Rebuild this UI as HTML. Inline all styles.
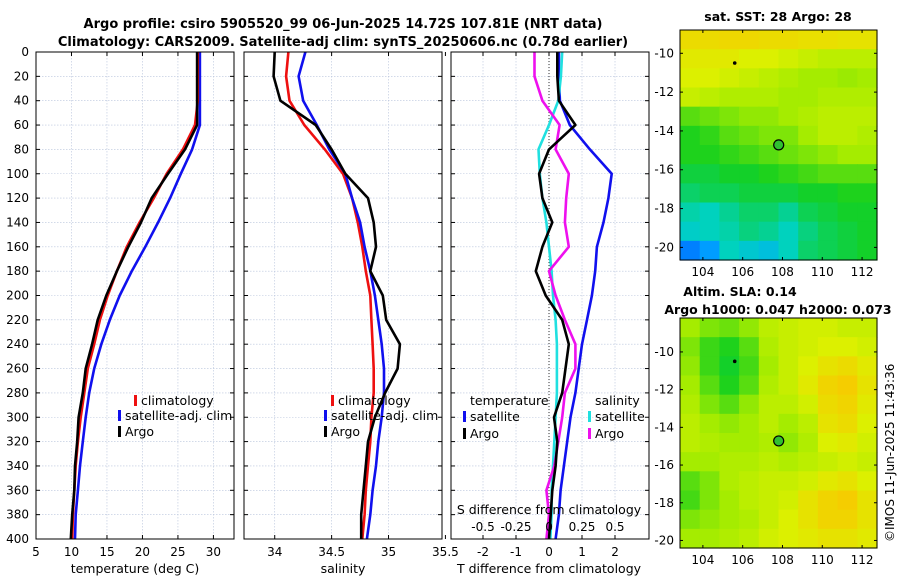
<!DOCTYPE html>
<html><head><meta charset="utf-8"><style>
html,body{margin:0;padding:0;background:#fff}
svg{display:block;font-family:"DejaVu Sans","Liberation Sans",sans-serif}
</style></head><body>
<svg id="c" width="900" height="580" viewBox="0 0 900 580">
<text x="343" y="28" text-anchor="middle" font-size="13" font-weight="bold">Argo profile: csiro 5905520_99 06-Jun-2025 14.72S 107.81E (NRT data)</text>
<text x="343" y="46" text-anchor="middle" font-size="13" font-weight="bold">Climatology: CARS2009. Satellite-adj clim: synTS_20250606.nc (0.78d earlier)</text>
<text x="778" y="21" text-anchor="middle" font-size="12.5" font-weight="bold">sat. SST: 28 Argo: 28</text>
<text x="740" y="296" text-anchor="middle" font-size="12.5" font-weight="bold">Altim. SLA: 0.14</text>
<text x="778" y="314" text-anchor="middle" font-size="12.5" font-weight="bold">Argo h1000: 0.047 h2000: 0.073</text>
<text transform="translate(894,542) rotate(-90)" font-size="12">©IMOS 11-Jun-2025 11:43:36</text>
<g id="g"></g>
</svg>
<script>
// ---------- data ----------
const depths=[0,20,40,60,80,100,120,140,160,180,200,220,240,260,280,300,320,340,360,380,400];
const tempClim=[27.8,27.8,27.8,27.4,25.7,23.4,21.6,19.6,17.8,16.4,15.1,14.0,13.2,12.3,11.8,11.3,10.9,10.6,10.4,10.2,10.1];
const tempSat=[28.1,28.1,28.1,28.1,27.0,25.4,23.9,22.2,20.4,18.5,16.8,15.4,14.2,13.2,12.5,12.0,11.6,11.2,10.9,10.6,10.5];
const tempArgo=[27.7,27.7,27.7,27.7,26.0,23.6,21.3,19.8,18.0,16.4,14.9,13.7,12.9,12.0,11.6,11.0,10.8,10.5,10.4,10.1,9.9];
const salClim=[34.12,34.10,34.13,34.26,34.44,34.60,34.68,34.73,34.77,34.80,34.84,34.85,34.86,34.87,34.87,34.85,34.84,34.82,34.80,34.79,34.77];
const salSat=[34.27,34.21,34.25,34.37,34.48,34.62,34.68,34.75,34.79,34.84,34.88,34.91,34.94,34.96,34.96,34.94,34.91,34.89,34.86,34.84,34.81];
const salArgo=[34.00,33.99,34.05,34.36,34.50,34.62,34.82,34.87,34.89,34.84,34.95,34.98,35.10,35.08,34.97,34.88,34.82,34.80,34.78,34.76,34.76];
const dTSat=[0.3,0.3,0.33,0.63,1.24,1.9,1.8,1.65,1.45,1.4,1.3,1.15,1.0,0.9,0.8,0.65,0.55,0.45,0.35,0.3,0.2];
const dTArgo=[0.25,0.25,0.3,0.8,0.0,-0.3,-0.2,0.1,-0.2,-0.4,-0.1,0.4,0.6,0.5,0.4,0.15,0.25,0.2,0.1,0.05,0.0];
const dSSat=[0.1,0.09,0.07,0.0,-0.08,-0.07,-0.05,-0.02,0.0,0.02,0.03,0.05,0.06,0.06,0.06,0.05,0.04,0.03,0.02,0.02,0.01];
const dSArgo=[-0.11,-0.11,-0.05,0.08,0.05,0.15,0.13,0.12,0.15,0.0,0.05,0.12,0.2,0.2,0.12,0.1,0.07,0.04,-0.02,0.0,-0.02];
const depthTicks=[0,20,40,60,80,100,120,140,160,180,200,220,240,260,280,300,320,340,360,380,400];
const tempTicks=[5,10,15,20,25,30];
const salTicks=[34,34.5,35,35.5];
const salTickLabels=["34","34.5","35","35.5"];
const dTTicks=[-2,-1,0,1,2];
const dSTicks=[-0.5,-0.25,0,0.25,0.5];
const dSTickLabels=["-0.5","-0.25","0","0.25","0.5"];
const lonTicks=[104,106,108,110,112];
const latTicks=[-10,-12,-14,-16,-18,-20];
const sstGrid=[
[.86,.86,.87,.87,.86,.86,.85,.85,.84,.84],
[.82,.82,.82,.80,.80,.78,.76,.74,.74,.74],
[.80,.80,.78,.76,.74,.72,.70,.70,.69,.70],
[.76,.74,.72,.72,.72,.70,.70,.72,.72,.72],
[.62,.64,.66,.68,.68,.70,.72,.74,.74,.74],
[.56,.58,.62,.64,.66,.66,.70,.74,.74,.72],
[.56,.56,.58,.60,.62,.64,.66,.68,.70,.70],
[.52,.52,.54,.54,.56,.58,.60,.62,.62,.62],
[.48,.50,.50,.52,.52,.52,.54,.54,.56,.56],
[.42,.40,.44,.48,.48,.44,.50,.52,.54,.54],
[.38,.40,.42,.46,.44,.40,.46,.50,.52,.54],
[.15,.22,.40,.36,.33,.40,.48,.50,.52,.54]];
const slaGrid=[
[.70,.66,.64,.68,.74,.76,.78,.78,.76,.76],
[.66,.59,.56,.62,.72,.76,.78,.80,.80,.78],
[.68,.59,.54,.60,.70,.76,.80,.84,.86,.82],
[.70,.62,.56,.62,.72,.76,.82,.88,.90,.84],
[.72,.66,.62,.68,.74,.74,.78,.86,.88,.82],
[.74,.70,.68,.70,.74,.70,.74,.84,.86,.80],
[.74,.72,.70,.70,.72,.68,.72,.80,.82,.78],
[.70,.70,.72,.72,.74,.72,.74,.76,.78,.76],
[.62,.66,.72,.74,.76,.76,.78,.82,.84,.80],
[.60,.66,.70,.74,.76,.78,.84,.88,.90,.84],
[.66,.68,.70,.72,.76,.80,.84,.88,.88,.84],
[.70,.70,.72,.74,.78,.80,.82,.84,.84,.82]];
const argoPos=[107.81,-14.72];
const dotPos=[105.6,-10.5];

// ---------- helpers ----------
const NS="http://www.w3.org/2000/svg";
const G=document.getElementById('g');
function mk(tag,at,parent){const e=document.createElementNS(NS,tag);for(const k in at)e.setAttribute(k,at[k]);(parent||G).appendChild(e);return e;}
function lin(d0,d1,r0,r1){return v=>r0+(v-d0)/(d1-d0)*(r1-r0);}
const PT=52,PB=539;
const yD=lin(0,400,PT,PB);
const panels=[{x0:36,x1:234,dom:[5,32.9]},{x0:244,x1:442,dom:[33.73,35.47]},{x0:451,x1:649,dom:[-2.97,3.03]}];
panels.forEach((p,i)=>{
  p.sx=lin(p.dom[0],p.dom[1],p.x0,p.x1);
  const r=mk('rect',{x:p.x0,y:PT,width:p.x1-p.x0,height:PB-PT,fill:'#fff',stroke:'none'});
  
  
});
function grid(p,xt){
  depthTicks.forEach(d=>{const l=mk('line',{x1:p.x0,x2:p.x1,y1:yD(d),y2:yD(d),stroke:'#b8c4dc','stroke-width':0.6,'stroke-dasharray':'1.5,1.5'});
    
    });
  xt.forEach(v=>{const x=p.sx(v);if(x<p.x0+1||x>p.x1-1)return;const l=mk('line',{x1:x,x2:x,y1:PT,y2:PB,stroke:'#b8c4dc','stroke-width':0.6,'stroke-dasharray':'1.5,1.5'});
    
    });
}
grid(panels[0],tempTicks);grid(panels[1],salTicks);grid(panels[2],dTTicks);
function line(p,sx,xs,color,name,w){
  const pts=xs.map((v,i)=>sx(v).toFixed(1)+','+yD(depths[i]).toFixed(1)).join(' ');
  const e=mk('polyline',{points:pts,fill:'none',stroke:color,'stroke-width':w||2.6,'stroke-linejoin':'round'});
  
  
}
const p1=panels[0],p2=panels[1],p3=panels[2];
line(p1,p1.sx,tempSat,'#1010ee','temp-satellite-line');
line(p1,p1.sx,tempClim,'#ee1010','temp-climatology-line');
line(p1,p1.sx,tempArgo,'#000','temp-argo-line');
line(p2,p2.sx,salClim,'#ee1010','sal-climatology-line');
line(p2,p2.sx,salSat,'#1010ee','sal-satellite-line');
line(p2,p2.sx,salArgo,'#000','sal-argo-line');
const sxS=lin(-0.75,0.75,p3.sx(-3),p3.sx(3));
{const z=mk('line',{x1:p3.sx(0),x2:p3.sx(0),y1:PT,y2:PB,stroke:'#333','stroke-width':1,'stroke-dasharray':'1,2'});
 
 }
line(p3,p3.sx,dTSat,'#1010ee','tdiff-satellite-line');
line(p3,sxS,dSSat,'#20e0e0','sdiff-satellite-line');
line(p3,sxS,dSArgo,'#ee10ee','sdiff-argo-line');
line(p3,p3.sx,dTArgo,'#000','tdiff-argo-line');

// frames and ticks
panels.forEach((p,i)=>{
  const f=mk('rect',{x:p.x0,y:PT,width:p.x1-p.x0,height:PB-PT,fill:'none',stroke:'#000','stroke-width':1});
  
  
  depthTicks.forEach(d=>{mk('line',{x1:p.x0,x2:p.x0+4,y1:yD(d),y2:yD(d),stroke:'#000'});mk('line',{x1:p.x1,x2:p.x1-4,y1:yD(d),y2:yD(d),stroke:'#000'});});
});
depthTicks.forEach(d=>{const t=mk('text',{x:29,y:yD(d)+4,'text-anchor':'end','font-size':12});t.textContent=d;
  
  });
function xlabels(p,ticks,labels,y){ticks.forEach((v,i)=>{const x=p.sx(v);mk('line',{x1:x,x2:x,y1:PB,y2:PB-4,stroke:'#000'});mk('line',{x1:x,x2:x,y1:PT,y2:PT+4,stroke:'#000'});
  const t=mk('text',{x:x,y:y,'text-anchor':'middle','font-size':12});t.textContent=labels[i];
  
  });}
xlabels(p1,tempTicks,tempTicks.map(String),556);
xlabels(p2,salTicks,salTickLabels,556);
xlabels(p3,dTTicks,dTTicks.map(String),556);
dSTicks.forEach((v,i)=>{const t=mk('text',{x:sxS(v),y:531,'text-anchor':'middle','font-size':12});t.textContent=dSTickLabels[i];
  
  });
function txt(x,y,s,name,anchor,size){const t=mk('text',{x:x,y:y,'text-anchor':anchor||'start','font-size':size||12.5});t.textContent=s;
  
  return t;}
txt(135,573,'temperature (deg C)','temp-axis-title','middle');
txt(343,573,'salinity','sal-axis-title','middle');
txt(549,573,'T difference from climatology','tdiff-axis-title','middle');
txt(549,514,'S difference from climatology','sdiff-axis-title','middle');
// legends
function leg(x,y,color,label,name){const b=mk('rect',{x:x,y:y-10,width:3,height:11,fill:color});
  
  
  txt(x+7,y,label,name,'start',12.5);}
leg(134,405,'#ee1010','climatology','legend-temp-climatology');
leg(118,420,'#1010ee','satellite-adj. clim','legend-temp-satellite');
leg(118,436,'#000','Argo','legend-temp-argo');
leg(331,405,'#ee1010','climatology','legend-sal-climatology');
leg(324,420,'#1010ee','satellite-adj. clim','legend-sal-satellite');
leg(324,436,'#000','Argo','legend-sal-argo');
txt(470,405,'temperature','legend-temperature-header');
leg(463,421,'#1010ee','satellite','legend-tdiff-satellite');
leg(463,438,'#000','Argo','legend-tdiff-argo');
txt(595,405,'salinity','legend-salinity-header');
leg(588,421,'#20e0e0','satellite','legend-sdiff-satellite');
leg(588,438,'#ee10ee','Argo','legend-sdiff-argo');

// ---------- maps ----------
const stops=[[0,[0,64,255]],[0.25,[0,170,255]],[0.4,[0,210,190]],[0.55,[20,208,30]],[0.7,[165,236,0]],[0.8,[220,240,0]],[0.9,[245,205,0]],[1,[245,140,0]]];
function cmap(v){for(let i=1;i<stops.length;i++){if(v<=stops[i][0]){const a=stops[i-1],b=stops[i],t=(v-a[0])/(b[0]-a[0]);return 'rgb('+a[1].map((c,k)=>Math.round(c+(b[1][k]-c)*t)).join(',')+')';}}return 'rgb(245,140,0)';}
function drawMap(m,gridV,name){
  const sx=lin(102.85,112.75,m.x0,m.x1),sy=lin(m.lat0,m.lat1,m.y0,m.y1);
  const rows=gridV.length,cols=gridV[0].length,cw=(m.x1-m.x0)/cols,ch=(m.y1-m.y0)/rows;
  gridV.forEach((row,r)=>row.forEach((v,c)=>{const e=mk('rect',{x:(m.x0+c*cw).toFixed(2),y:(m.y0+r*ch).toFixed(2),width:(cw+0.6).toFixed(2),height:(ch+0.6).toFixed(2),fill:cmap(v)});
    
    }));
  const f=mk('rect',{x:m.x0,y:m.y0,width:m.x1-m.x0,height:m.y1-m.y0,fill:'none',stroke:'#000'});
  
  
  lonTicks.forEach(v=>{const x=sx(v);mk('line',{x1:x,x2:x,y1:m.y1,y2:m.y1-3,stroke:'#000'});mk('line',{x1:x,x2:x,y1:m.y0,y2:m.y0+3,stroke:'#000'});
    txt(x,m.y1+16,String(v),name+'-lon-label','middle',12);});
  latTicks.forEach(v=>{const y=sy(v);mk('line',{x1:m.x0,x2:m.x0+3,y1:y,y2:y,stroke:'#000'});mk('line',{x1:m.x1,x2:m.x1-3,y1:y,y2:y,stroke:'#000'});
    txt(m.x0-6,y+4,String(v),name+'-lat-label','end',12);});
  const c=mk('circle',{cx:sx(argoPos[0]),cy:sy(argoPos[1]),r:5,fill:'#30c030',stroke:'#000','stroke-width':1.2});
  
  
  const d=mk('circle',{cx:sx(dotPos[0]),cy:sy(dotPos[1]),r:1.8,fill:'#000'});
  
  
}
drawMap({x0:680,x1:877,y0:30,y1:260,lat0:-8.8,lat1:-20.65},sstGrid,'sst-map');
drawMap({x0:680,x1:877,y0:318,y1:548,lat0:-8.2,lat1:-20.4},slaGrid,'sla-map');
</script>
</body></html>
